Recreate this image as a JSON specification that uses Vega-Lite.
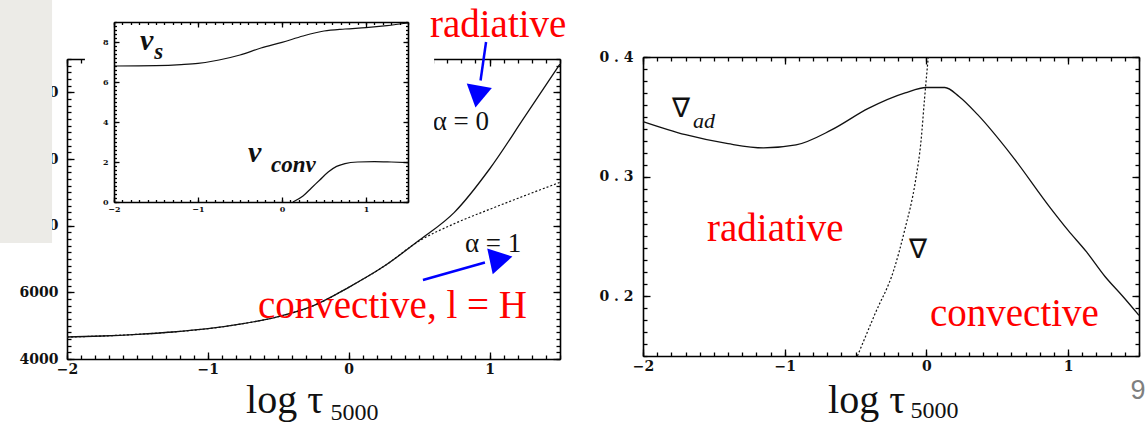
{
  "$schema": "https://vega.github.io/schema/vega-lite/v6.json",
  "width": 1148,
  "height": 425,
  "autosize": "none",
  "padding": 0,
  "background": "white",
  "config": {
    "view": {"stroke": null},
    "axis": {"grid": false, "domainColor": "#000", "tickColor": "#000", "labelColor": "#111", "labelFont": "DejaVu Serif", "labelFontWeight": "bold", "labelFlush": false, "labelOverlap": false, "domainWidth": 1.6, "tickWidth": 1.3, "title": null}
  },
  "datasets": {
    "slideBox": [{"tauFrom": -2.476, "tauTo": -2.106, "TFrom": 14770, "TTo": 7480}],
    "insetPaper": [{"tauFrom": -2.346, "tauTo": 1.811, "vFrom": 9.85, "vTo": -0.65}],
    "temperature": [
      {"logTau": -2, "T": 4660, "alpha": "0"}, {"logTau": -1.75, "T": 4690, "alpha": "0"}, {"logTau": -1.5, "T": 4740, "alpha": "0"},
      {"logTau": -1.25, "T": 4810, "alpha": "0"}, {"logTau": -1, "T": 4910, "alpha": "0"}, {"logTau": -0.75, "T": 5060, "alpha": "0"},
      {"logTau": -0.5, "T": 5270, "alpha": "0"}, {"logTau": -0.25, "T": 5600, "alpha": "0"}, {"logTau": 0, "T": 6150, "alpha": "0"},
      {"logTau": 0.25, "T": 6780, "alpha": "0"}, {"logTau": 0.5, "T": 7560, "alpha": "0"}, {"logTau": 0.75, "T": 8400, "alpha": "0"},
      {"logTau": 1, "T": 9700, "alpha": "0"}, {"logTau": 1.25, "T": 11270, "alpha": "0"}, {"logTau": 1.5, "T": 12850, "alpha": "0"},
      {"logTau": -2, "T": 4660, "alpha": "1"}, {"logTau": -1.75, "T": 4690, "alpha": "1"}, {"logTau": -1.5, "T": 4740, "alpha": "1"},
      {"logTau": -1.25, "T": 4810, "alpha": "1"}, {"logTau": -1, "T": 4910, "alpha": "1"}, {"logTau": -0.75, "T": 5060, "alpha": "1"},
      {"logTau": -0.5, "T": 5270, "alpha": "1"}, {"logTau": -0.25, "T": 5600, "alpha": "1"}, {"logTau": 0, "T": 6150, "alpha": "1"},
      {"logTau": 0.25, "T": 6780, "alpha": "1"}, {"logTau": 0.5, "T": 7540, "alpha": "1"}, {"logTau": 0.75, "T": 8060, "alpha": "1"},
      {"logTau": 1, "T": 8490, "alpha": "1"}, {"logTau": 1.25, "T": 8900, "alpha": "1"}, {"logTau": 1.5, "T": 9300, "alpha": "1"}
    ],
    "alphaLabels": [{"logTau": 0.596, "T": 10870, "label": "α = 0"}, {"logTau": 0.825, "T": 7210, "label": "α = 1"}],
    "mainNotes": [{"logTau": 0.577, "T": 13660, "label": "radiative"}, {"logTau": -0.644, "T": 5230, "label": "convective, l = H"}],
    "mainTitle": [{"logTau": -0.729, "T": 2380, "label": "log τ"}],
    "mainTitleSub": [{"logTau": -0.13, "T": 2170, "label": "5000"}],
    "mainArrows": [
      {"arrow": "radiative", "tau0": 0.975, "T0": 13510, "tau1": 0.936, "T1": 12355, "tauHead": 0.918, "THead": 11980},
      {"arrow": "convective", "tau0": 0.527, "T0": 6370, "tau1": 0.967, "T1": 6895, "tauHead": 1.056, "THead": 6978}
    ],
    "velocity": [
      {"logTau": -2, "v": 6.8, "kind": "vs"}, {"logTau": -1.5, "v": 6.82, "kind": "vs"}, {"logTau": -1.2, "v": 6.87, "kind": "vs"},
      {"logTau": -1, "v": 6.93, "kind": "vs"}, {"logTau": -0.75, "v": 7.1, "kind": "vs"}, {"logTau": -0.5, "v": 7.35, "kind": "vs"},
      {"logTau": -0.25, "v": 7.7, "kind": "vs"}, {"logTau": 0, "v": 7.98, "kind": "vs"}, {"logTau": 0.25, "v": 8.3, "kind": "vs"},
      {"logTau": 0.5, "v": 8.55, "kind": "vs"}, {"logTau": 0.75, "v": 8.65, "kind": "vs"}, {"logTau": 1, "v": 8.72, "kind": "vs"},
      {"logTau": 1.25, "v": 8.82, "kind": "vs"}, {"logTau": 1.5, "v": 8.95, "kind": "vs"},
      {"logTau": 0.13, "v": 0, "kind": "vconv"}, {"logTau": 0.25, "v": 0.3, "kind": "vconv"}, {"logTau": 0.35, "v": 0.7, "kind": "vconv"},
      {"logTau": 0.45, "v": 1.1, "kind": "vconv"}, {"logTau": 0.55, "v": 1.5, "kind": "vconv"}, {"logTau": 0.65, "v": 1.78, "kind": "vconv"},
      {"logTau": 0.75, "v": 1.92, "kind": "vconv"}, {"logTau": 0.9, "v": 2.0, "kind": "vconv"}, {"logTau": 1.1, "v": 2.02, "kind": "vconv"},
      {"logTau": 1.3, "v": 2.0, "kind": "vconv"}, {"logTau": 1.5, "v": 1.97, "kind": "vconv"}
    ],
    "velocityLabels": [{"logTau": -1.69, "v": 7.6, "label": "v"}, {"logTau": -0.405, "v": 2.0, "label": "v"}],
    "velocitySubs": [{"logTau": -1.52, "v": 7.15, "label": "s"}, {"logTau": -0.13, "v": 1.5, "label": "conv"}],
    "gradients": [
      {"logTau": -2, "g": 0.346, "kind": "ad"}, {"logTau": -1.7, "g": 0.335, "kind": "ad"}, {"logTau": -1.4, "g": 0.3275, "kind": "ad"},
      {"logTau": -1.15, "g": 0.324, "kind": "ad"}, {"logTau": -0.92, "g": 0.3265, "kind": "ad"}, {"logTau": -0.67, "g": 0.339, "kind": "ad"},
      {"logTau": -0.41, "g": 0.357, "kind": "ad"}, {"logTau": -0.15, "g": 0.37, "kind": "ad"}, {"logTau": 0, "g": 0.3745, "kind": "ad"},
      {"logTau": 0.13, "g": 0.3745, "kind": "ad"}, {"logTau": 0.23, "g": 0.367, "kind": "ad"}, {"logTau": 0.36, "g": 0.352, "kind": "ad"},
      {"logTau": 0.6, "g": 0.318, "kind": "ad"}, {"logTau": 0.87, "g": 0.2745, "kind": "ad"}, {"logTau": 1.0, "g": 0.255, "kind": "ad"},
      {"logTau": 1.13, "g": 0.237, "kind": "ad"}, {"logTau": 1.26, "g": 0.2165, "kind": "ad"}, {"logTau": 1.385, "g": 0.2, "kind": "ad"},
      {"logTau": 1.5, "g": 0.184, "kind": "ad"},
      {"logTau": -0.487, "g": 0.15, "kind": "actual"}, {"logTau": -0.36, "g": 0.186, "kind": "actual"}, {"logTau": -0.23, "g": 0.222, "kind": "actual"},
      {"logTau": -0.154, "g": 0.255, "kind": "actual"}, {"logTau": -0.077, "g": 0.2966, "kind": "actual"}, {"logTau": -0.038, "g": 0.33, "kind": "actual"},
      {"logTau": -0.013, "g": 0.3655, "kind": "actual"}, {"logTau": 0.013, "g": 0.4, "kind": "actual"}
    ],
    "nablaLabels": [{"logTau": -1.795, "g": 0.3498, "label": "∇"}, {"logTau": -0.123, "g": 0.232, "label": "∇"}],
    "nablaSubs": [{"logTau": -1.647, "g": 0.3406, "label": "ad"}],
    "rightNotes": [{"logTau": -1.548, "g": 0.246, "label": "radiative"}, {"logTau": 0.025, "g": 0.175, "label": "convective"}],
    "rightTitle": [{"logTau": -0.694, "g": 0.1023, "label": "log τ"}],
    "rightTitleSub": [{"logTau": -0.112, "g": 0.098, "label": "5000"}],
    "slideNumber": [{"logTau": 1.44, "g": 0.114, "label": "9"}]
  },
  "layer": [
    {
      "data": {"name": "slideBox"},
      "mark": {"type": "rect", "color": "#ecebe7"},
      "encoding": {
        "x": {"field": "tauFrom", "type": "quantitative", "scale": {"domain": [-2, 1.5], "range": [67, 560], "nice": false, "zero": false}, "axis": null},
        "x2": {"field": "tauTo"},
        "y": {"field": "TFrom", "type": "quantitative", "scale": {"domain": [4000, 13000], "range": [359, 59], "nice": false, "zero": false}, "axis": null},
        "y2": {"field": "TTo"}
      }
    },
    {
      "data": {"name": "temperature"},
      "transform": [{"filter": "datum.alpha === '0'"}],
      "mark": {"type": "line", "color": "#111", "strokeWidth": 1.3, "interpolate": "monotone"},
      "encoding": {
        "x": {"field": "logTau", "type": "quantitative", "scale": {"domain": [-2, 1.5], "range": [67, 560], "nice": false, "zero": false},
              "axis": {"orient": "bottom", "offset": -66, "values": [-2, -1, 0, 1], "ticks": false, "labelPadding": 3, "labelFontSize": 14}},
        "y": {"field": "T", "type": "quantitative", "scale": {"domain": [4000, 13000], "range": [359, 59], "nice": false, "zero": false},
              "axis": {"orient": "left", "offset": -67, "values": [4000, 6000, 8000, 10000, 12000], "format": "d", "ticks": false, "labelPadding": 9, "labelFontSize": 14}}
      }
    },
    {
      "data": {"name": "temperature"},
      "transform": [{"filter": "datum.alpha === '1'"}],
      "mark": {"type": "line", "color": "#111", "strokeWidth": 1.2, "strokeDash": [2, 2], "interpolate": "monotone"},
      "encoding": {
        "x": {"field": "logTau", "type": "quantitative", "scale": {"domain": [-2, 1.5], "range": [67, 560], "nice": false, "zero": false},
              "axis": {"orient": "top", "offset": -359, "values": [-2, -1, 0, 1], "tickSize": 7, "labels": false, "domain": false}},
        "y": {"field": "T", "type": "quantitative", "scale": {"domain": [4000, 13000], "range": [359, 59], "nice": false, "zero": false},
              "axis": {"orient": "right", "offset": -1081, "values": [4000, 6000, 8000, 10000, 12000], "tickSize": 7, "labels": false, "domain": false}}
      }
    },
    {
      "data": {"name": "alphaLabels"},
      "mark": {"type": "text", "font": "Liberation Serif", "fontSize": 27, "align": "left", "baseline": "alphabetic", "color": "#111"},
      "encoding": {
        "x": {"field": "logTau", "type": "quantitative", "scale": {"domain": [-2, 1.5], "range": [67, 560], "nice": false, "zero": false},
              "axis": {"orient": "top", "offset": -359, "tickCount": 35, "tickSize": 4, "labels": false, "domain": false}},
        "y": {"field": "T", "type": "quantitative", "scale": {"domain": [4000, 13000], "range": [359, 59], "nice": false, "zero": false},
              "axis": {"orient": "right", "offset": -1081, "tickCount": 45, "tickSize": 4, "labels": false, "domain": false}},
        "text": {"field": "label"}
      }
    },
    {
      "data": {"name": "mainTitle"},
      "mark": {"type": "text", "font": "Liberation Serif", "fontSize": 40, "align": "left", "baseline": "alphabetic", "color": "#111"},
      "encoding": {
        "x": {"field": "logTau", "type": "quantitative", "scale": {"domain": [-2, 1.5], "range": [67, 560], "nice": false, "zero": false},
              "axis": {"orient": "bottom", "offset": -366, "values": [-2, -1, 0, 1], "tickSize": 7, "labels": false}},
        "y": {"field": "T", "type": "quantitative", "scale": {"domain": [4000, 13000], "range": [359, 59], "nice": false, "zero": false},
              "axis": {"orient": "left", "offset": -560, "values": [4000, 6000, 8000, 10000, 12000], "tickSize": 7, "labels": false}},
        "text": {"field": "label"}
      }
    },
    {
      "data": {"name": "mainTitleSub"},
      "mark": {"type": "text", "font": "Liberation Serif", "fontSize": 24, "align": "left", "baseline": "alphabetic", "color": "#111"},
      "encoding": {
        "x": {"field": "logTau", "type": "quantitative", "scale": {"domain": [-2, 1.5], "range": [67, 560], "nice": false, "zero": false},
              "axis": {"orient": "bottom", "offset": -366, "tickCount": 35, "tickSize": 4, "labels": false, "domain": false}},
        "y": {"field": "T", "type": "quantitative", "scale": {"domain": [4000, 13000], "range": [359, 59], "nice": false, "zero": false},
              "axis": {"orient": "left", "offset": -560, "tickCount": 45, "tickSize": 4, "labels": false, "domain": false}},
        "text": {"field": "label"}
      }
    },
    {
      "data": {"name": "insetPaper"},
      "mark": {"type": "rect", "color": "white"},
      "encoding": {
        "x": {"field": "tauFrom", "type": "quantitative", "scale": {"domain": [-2, 1.5], "range": [114, 408], "nice": false, "zero": false},
              "axis": {"orient": "bottom", "offset": -223, "values": [-2, -1, 0, 1], "ticks": false, "labelPadding": 3, "labelFontSize": 8, "zindex": 1}},
        "x2": {"field": "tauTo"},
        "y": {"field": "vFrom", "type": "quantitative", "scale": {"domain": [0, 9], "range": [202, 22], "nice": false, "zero": false},
              "axis": {"orient": "left", "offset": -114, "values": [0, 2, 4, 6, 8], "ticks": false, "labelPadding": 6, "labelFontSize": 8, "zindex": 1}},
        "y2": {"field": "vTo"}
      }
    },
    {
      "data": {"name": "velocity"},
      "transform": [{"filter": "datum.kind === 'vs'"}],
      "mark": {"type": "line", "color": "#111", "strokeWidth": 1.2, "interpolate": "monotone"},
      "encoding": {
        "x": {"field": "logTau", "type": "quantitative", "scale": {"domain": [-2, 1.5], "range": [114, 408], "nice": false, "zero": false},
              "axis": {"orient": "top", "offset": -202, "values": [-2, -1, 0, 1], "tickSize": 5, "labels": false, "domain": false, "zindex": 1}},
        "y": {"field": "v", "type": "quantitative", "scale": {"domain": [0, 9], "range": [202, 22], "nice": false, "zero": false},
              "axis": {"orient": "right", "offset": -1034, "values": [0, 2, 4, 6, 8], "tickSize": 5, "labels": false, "domain": false, "zindex": 1}}
      }
    },
    {
      "data": {"name": "velocity"},
      "transform": [{"filter": "datum.kind === 'vconv'"}],
      "mark": {"type": "line", "color": "#111", "strokeWidth": 1.2, "interpolate": "monotone"},
      "encoding": {
        "x": {"field": "logTau", "type": "quantitative", "scale": {"domain": [-2, 1.5], "range": [114, 408], "nice": false, "zero": false},
              "axis": {"orient": "top", "offset": -202, "tickCount": 35, "tickSize": 2.5, "labels": false, "domain": false, "zindex": 1}},
        "y": {"field": "v", "type": "quantitative", "scale": {"domain": [0, 9], "range": [202, 22], "nice": false, "zero": false},
              "axis": {"orient": "right", "offset": -1034, "tickCount": 45, "tickSize": 2.5, "labels": false, "domain": false, "zindex": 1}}
      }
    },
    {
      "data": {"name": "velocityLabels"},
      "mark": {"type": "text", "font": "Liberation Serif", "fontSize": 30, "fontStyle": "italic", "fontWeight": "bold", "align": "left", "baseline": "alphabetic", "color": "#111"},
      "encoding": {
        "x": {"field": "logTau", "type": "quantitative", "scale": {"domain": [-2, 1.5], "range": [114, 408], "nice": false, "zero": false},
              "axis": {"orient": "bottom", "offset": -403, "values": [-2, -1, 0, 1], "tickSize": 5, "labels": false, "zindex": 1}},
        "y": {"field": "v", "type": "quantitative", "scale": {"domain": [0, 9], "range": [202, 22], "nice": false, "zero": false},
              "axis": {"orient": "left", "offset": -408, "values": [0, 2, 4, 6, 8], "tickSize": 5, "labels": false, "zindex": 1}},
        "text": {"field": "label"}
      }
    },
    {
      "data": {"name": "velocitySubs"},
      "mark": {"type": "text", "font": "Liberation Serif", "fontSize": 23, "fontStyle": "italic", "fontWeight": "bold", "align": "left", "baseline": "alphabetic", "color": "#111"},
      "encoding": {
        "x": {"field": "logTau", "type": "quantitative", "scale": {"domain": [-2, 1.5], "range": [114, 408], "nice": false, "zero": false},
              "axis": {"orient": "bottom", "offset": -403, "tickCount": 35, "tickSize": 2.5, "labels": false, "domain": false, "zindex": 1}},
        "y": {"field": "v", "type": "quantitative", "scale": {"domain": [0, 9], "range": [202, 22], "nice": false, "zero": false},
              "axis": {"orient": "left", "offset": -408, "tickCount": 45, "tickSize": 2.5, "labels": false, "domain": false, "zindex": 1}},
        "text": {"field": "label"}
      }
    },
    {
      "data": {"name": "gradients"},
      "transform": [{"filter": "datum.kind === 'ad'"}],
      "mark": {"type": "line", "color": "#111", "strokeWidth": 1.3, "interpolate": "monotone"},
      "encoding": {
        "x": {"field": "logTau", "type": "quantitative", "scale": {"domain": [-2, 1.5], "range": [643, 1139], "nice": false, "zero": false},
              "axis": {"orient": "bottom", "offset": -69, "values": [-2, -1, 0, 1], "ticks": false, "labelPadding": 3, "labelFontSize": 14}},
        "y": {"field": "g", "type": "quantitative", "scale": {"domain": [0.15, 0.4], "range": [356, 57], "nice": false, "zero": false},
              "axis": {"orient": "left", "offset": -643, "values": [0.2, 0.3, 0.4], "labelExpr": "replace(format(datum.value, '.1f'), '.', ' . ')", "ticks": false, "labelPadding": 10, "labelFontSize": 14}}
      }
    },
    {
      "data": {"name": "gradients"},
      "transform": [{"filter": "datum.kind === 'actual'"}],
      "mark": {"type": "line", "color": "#111", "strokeWidth": 1.2, "strokeDash": [2, 2], "interpolate": "monotone"},
      "encoding": {
        "x": {"field": "logTau", "type": "quantitative", "scale": {"domain": [-2, 1.5], "range": [643, 1139], "nice": false, "zero": false},
              "axis": {"orient": "top", "offset": -356, "values": [-2, -1, 0, 1], "tickSize": 7, "labels": false, "domain": false}},
        "y": {"field": "g", "type": "quantitative", "scale": {"domain": [0.15, 0.4], "range": [356, 57], "nice": false, "zero": false},
              "axis": {"orient": "right", "offset": -505, "values": [0.2, 0.3, 0.4], "tickSize": 7, "labels": false, "domain": false}}
      }
    },
    {
      "data": {"name": "nablaLabels"},
      "mark": {"type": "text", "font": "DejaVu Sans", "fontSize": 27, "align": "left", "baseline": "alphabetic", "color": "#111"},
      "encoding": {
        "x": {"field": "logTau", "type": "quantitative", "scale": {"domain": [-2, 1.5], "range": [643, 1139], "nice": false, "zero": false},
              "axis": {"orient": "top", "offset": -356, "tickCount": 35, "tickSize": 4, "labels": false, "domain": false}},
        "y": {"field": "g", "type": "quantitative", "scale": {"domain": [0.15, 0.4], "range": [356, 57], "nice": false, "zero": false},
              "axis": {"orient": "right", "offset": -505, "tickCount": 25, "tickSize": 4, "labels": false, "domain": false}},
        "text": {"field": "label"}
      }
    },
    {
      "data": {"name": "nablaSubs"},
      "mark": {"type": "text", "font": "Liberation Serif", "fontSize": 22, "fontStyle": "italic", "align": "left", "baseline": "alphabetic", "color": "#111"},
      "encoding": {
        "x": {"field": "logTau", "type": "quantitative", "scale": {"domain": [-2, 1.5], "range": [643, 1139], "nice": false, "zero": false},
              "axis": {"orient": "bottom", "offset": -368, "values": [-2, -1, 0, 1], "tickSize": 7, "labels": false}},
        "y": {"field": "g", "type": "quantitative", "scale": {"domain": [0.15, 0.4], "range": [356, 57], "nice": false, "zero": false},
              "axis": {"orient": "left", "offset": -1139, "values": [0.2, 0.3, 0.4], "tickSize": 7, "labels": false}},
        "text": {"field": "label"}
      }
    },
    {
      "data": {"name": "rightNotes"},
      "mark": {"type": "text", "font": "Liberation Serif", "fontSize": 39, "align": "left", "baseline": "alphabetic", "color": "#ff0000"},
      "encoding": {
        "x": {"field": "logTau", "type": "quantitative", "scale": {"domain": [-2, 1.5], "range": [643, 1139], "nice": false, "zero": false},
              "axis": {"orient": "bottom", "offset": -368, "tickCount": 35, "tickSize": 4, "labels": false, "domain": false}},
        "y": {"field": "g", "type": "quantitative", "scale": {"domain": [0.15, 0.4], "range": [356, 57], "nice": false, "zero": false},
              "axis": {"orient": "left", "offset": -1139, "tickCount": 25, "tickSize": 4, "labels": false, "domain": false}},
        "text": {"field": "label"}
      }
    },
    {
      "data": {"name": "rightTitle"},
      "mark": {"type": "text", "font": "Liberation Serif", "fontSize": 40, "align": "left", "baseline": "alphabetic", "color": "#111"},
      "encoding": {
        "x": {"field": "logTau", "type": "quantitative", "scale": {"domain": [-2, 1.5], "range": [643, 1139], "nice": false, "zero": false}, "axis": null},
        "y": {"field": "g", "type": "quantitative", "scale": {"domain": [0.15, 0.4], "range": [356, 57], "nice": false, "zero": false}, "axis": null},
        "text": {"field": "label"}
      }
    },
    {
      "data": {"name": "rightTitleSub"},
      "mark": {"type": "text", "font": "Liberation Serif", "fontSize": 24, "align": "left", "baseline": "alphabetic", "color": "#111"},
      "encoding": {
        "x": {"field": "logTau", "type": "quantitative", "scale": {"domain": [-2, 1.5], "range": [643, 1139], "nice": false, "zero": false}, "axis": null},
        "y": {"field": "g", "type": "quantitative", "scale": {"domain": [0.15, 0.4], "range": [356, 57], "nice": false, "zero": false}, "axis": null},
        "text": {"field": "label"}
      }
    },
    {
      "data": {"name": "slideNumber"},
      "mark": {"type": "text", "font": "Liberation Sans", "fontSize": 27, "align": "left", "baseline": "alphabetic", "color": "#7f7f7f"},
      "encoding": {
        "x": {"field": "logTau", "type": "quantitative", "scale": {"domain": [-2, 1.5], "range": [643, 1139], "nice": false, "zero": false}, "axis": null},
        "y": {"field": "g", "type": "quantitative", "scale": {"domain": [0.15, 0.4], "range": [356, 57], "nice": false, "zero": false}, "axis": null},
        "text": {"field": "label"}
      }
    },
    {
      "data": {"name": "mainNotes"},
      "mark": {"type": "text", "font": "Liberation Serif", "fontSize": 39, "align": "left", "baseline": "alphabetic", "color": "#ff0000"},
      "encoding": {
        "x": {"field": "logTau", "type": "quantitative", "scale": {"domain": [-2, 1.5], "range": [67, 560], "nice": false, "zero": false}, "axis": null},
        "y": {"field": "T", "type": "quantitative", "scale": {"domain": [4000, 13000], "range": [359, 59], "nice": false, "zero": false}, "axis": null},
        "text": {"field": "label"}
      }
    },
    {
      "data": {"name": "mainArrows"},
      "mark": {"type": "rule", "color": "#0000ff", "strokeWidth": 2.5},
      "encoding": {
        "x": {"field": "tau0", "type": "quantitative", "scale": {"domain": [-2, 1.5], "range": [67, 560], "nice": false, "zero": false}, "axis": null},
        "x2": {"field": "tau1"},
        "y": {"field": "T0", "type": "quantitative", "scale": {"domain": [4000, 13000], "range": [359, 59], "nice": false, "zero": false}, "axis": null},
        "y2": {"field": "T1"}
      }
    },
    {
      "data": {"name": "mainArrows"},
      "transform": [{"filter": "datum.arrow === 'radiative'"}],
      "mark": {"type": "point", "shape": "triangle", "filled": true, "color": "#0000ff", "opacity": 1, "size": 650, "angle": 190},
      "encoding": {
        "x": {"field": "tauHead", "type": "quantitative", "scale": {"domain": [-2, 1.5], "range": [67, 560], "nice": false, "zero": false}, "axis": null},
        "y": {"field": "THead", "type": "quantitative", "scale": {"domain": [4000, 13000], "range": [359, 59], "nice": false, "zero": false}, "axis": null}
      }
    },
    {
      "data": {"name": "mainArrows"},
      "transform": [{"filter": "datum.arrow === 'convective'"}],
      "mark": {"type": "point", "shape": "triangle", "filled": true, "color": "#0000ff", "opacity": 1, "size": 700, "angle": 78},
      "encoding": {
        "x": {"field": "tauHead", "type": "quantitative", "scale": {"domain": [-2, 1.5], "range": [67, 560], "nice": false, "zero": false}, "axis": null},
        "y": {"field": "THead", "type": "quantitative", "scale": {"domain": [4000, 13000], "range": [359, 59], "nice": false, "zero": false}, "axis": null}
      }
    }
  ],
  "resolve": {
    "scale": {"x": "independent", "y": "independent"},
    "axis": {"x": "independent", "y": "independent"}
  }
}
